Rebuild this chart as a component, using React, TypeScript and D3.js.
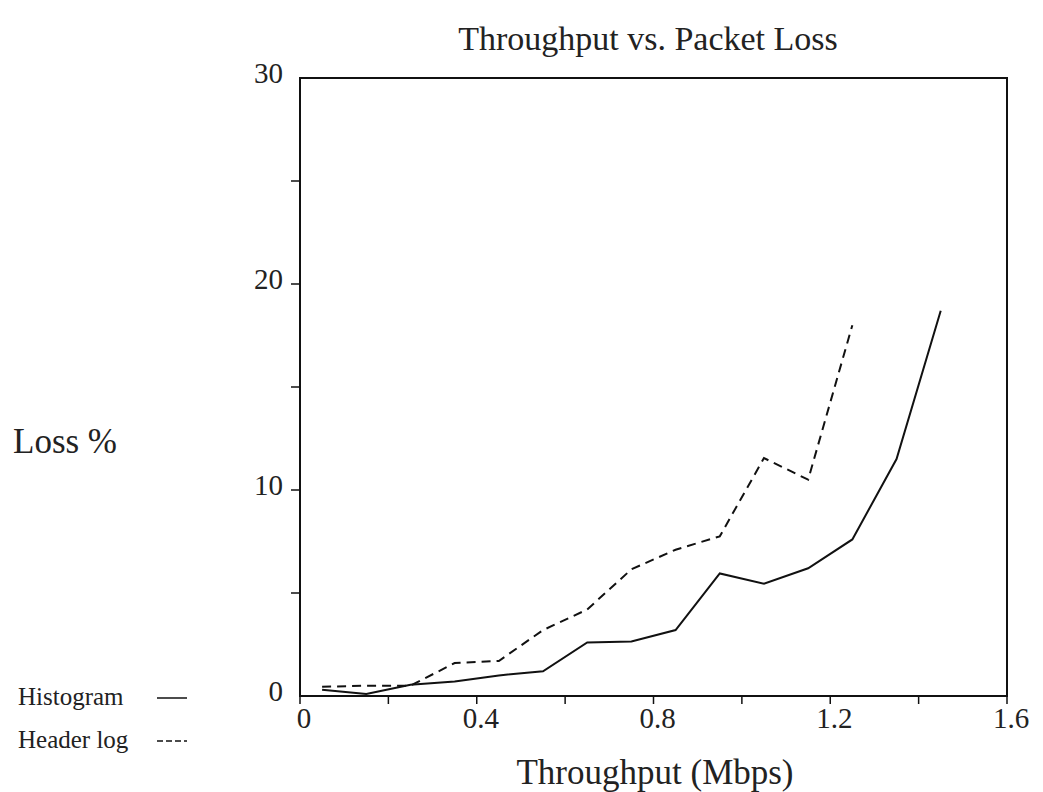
import * as d3 from "d3";
import { useRef, useEffect } from "react";

const throughput = [0.05, 0.15, 0.25, 0.35, 0.45, 0.55, 0.65, 0.75, 0.85, 0.95, 1.05, 1.15, 1.25, 1.35, 1.45];
const histogramLoss = [0.3, 0.1, 0.55, 0.7, 1.0, 1.2, 2.6, 2.65, 3.2, 5.95, 5.45, 6.2, 7.6, 11.5, 18.7];
const headerLogLoss = [0.45, 0.5, 0.5, 1.6, 1.7, 3.2, 4.2, 6.15, 7.1, 7.75, 11.55, 10.5, 18.0];

const xTicks = [0, 0.2, 0.4, 0.6, 0.8, 1.0, 1.2, 1.4, 1.6];
const xTickLabels = ["0", "", "0.4", "", "0.8", "", "1.2", "", "1.6"];
const yTicks = [0, 5, 10, 15, 20, 25, 30];
const yTickLabels = ["0", "", "10", "", "20", "", "30"];

const legendNames = ["Histogram", "Header log"];

export default function App({ width = 1043, height = 792 }) {
  const svgRef = useRef(null);

  useEffect(() => {
    const svg = d3.select(svgRef.current);
    svg.selectAll("*").remove();

    const font = "'Liberation Serif', 'Times New Roman', serif";
    const left = 300, right = 1007, top = 78, bottom = 696;

    const x = d3.scaleLinear().domain([0, 1.6]).range([left, right]);
    const y = d3.scaleLinear().domain([0, 30]).range([bottom, top]);

    // Frame
    svg.append("rect")
      .attr("x", left)
      .attr("y", top)
      .attr("width", right - left)
      .attr("height", bottom - top)
      .attr("fill", "none")
      .attr("stroke", "#111")
      .attr("stroke-width", 2);

    // x ticks
    svg.selectAll(".xtick")
      .data(xTicks)
      .enter()
      .append("line")
      .attr("x1", d => x(d))
      .attr("x2", d => x(d))
      .attr("y1", bottom)
      .attr("y2", bottom + 8)
      .attr("stroke", "#111")
      .attr("stroke-width", 1.5);

    svg.selectAll(".xlabel")
      .data(xTicks)
      .enter()
      .append("text")
      .attr("x", d => x(d) + 4)
      .attr("y", bottom + 32)
      .attr("text-anchor", "middle")
      .style("font-family", font)
      .style("font-size", "29px")
      .attr("fill", "#222")
      .text((d, i) => xTickLabels[i]);

    // y ticks
    svg.selectAll(".ytick")
      .data(yTicks.slice(1, -1))
      .enter()
      .append("line")
      .attr("x1", left - 9)
      .attr("x2", left)
      .attr("y1", d => y(d))
      .attr("y2", d => y(d))
      .attr("stroke", "#111")
      .attr("stroke-width", 1.5);

    svg.selectAll(".ylabel")
      .data(yTicks)
      .enter()
      .append("text")
      .attr("x", left - 17)
      .attr("y", d => y(d) + 5)
      .attr("text-anchor", "end")
      .style("font-family", font)
      .style("font-size", "29px")
      .attr("fill", "#222")
      .text((d, i) => yTickLabels[i]);

    const line = d3.line()
      .x(d => x(d[0]))
      .y(d => y(d[1]));

    // Histogram (solid)
    svg.append("path")
      .attr("d", line(histogramLoss.map((v, i) => [throughput[i], v])))
      .attr("fill", "none")
      .attr("stroke", "#111")
      .attr("stroke-width", 2);

    // Header log (dashed)
    svg.append("path")
      .attr("d", line(headerLogLoss.map((v, i) => [throughput[i], v])))
      .attr("fill", "none")
      .attr("stroke", "#111")
      .attr("stroke-width", 2)
      .attr("stroke-dasharray", "9,6");

    // Titles
    svg.append("text")
      .attr("x", 648)
      .attr("y", 50)
      .attr("text-anchor", "middle")
      .style("font-family", font)
      .style("font-size", "34px")
      .attr("fill", "#222")
      .text("Throughput vs. Packet Loss");

    svg.append("text")
      .attr("x", 655)
      .attr("y", 784)
      .attr("text-anchor", "middle")
      .style("font-family", font)
      .style("font-size", "35px")
      .attr("fill", "#222")
      .text("Throughput (Mbps)");

    svg.append("text")
      .attr("x", 13)
      .attr("y", 453)
      .style("font-family", font)
      .style("font-size", "35px")
      .attr("fill", "#222")
      .text("Loss %");

    // Legend
    const legend = svg.selectAll(".legend")
      .data(legendNames)
      .enter()
      .append("g")
      .attr("transform", (d, i) => `translate(0,${705 + i * 43})`);

    legend.append("text")
      .attr("x", 18)
      .attr("y", 0)
      .style("font-family", font)
      .style("font-size", "25px")
      .attr("fill", "#222")
      .text(d => d);

    legend.append("line")
      .attr("x1", 157)
      .attr("x2", 187)
      .attr("y1", -7)
      .attr("y2", -7)
      .attr("stroke", "#111")
      .attr("stroke-width", 1.5)
      .attr("stroke-dasharray", (d, i) => (i === 0 ? null : "6,3"));
  }, [width, height]);

  return (
    <svg
      ref={svgRef}
      width={width}
      height={height}
      style={{ position: "absolute", left: 0, top: 0, background: "#fff" }}
    />
  );
}
